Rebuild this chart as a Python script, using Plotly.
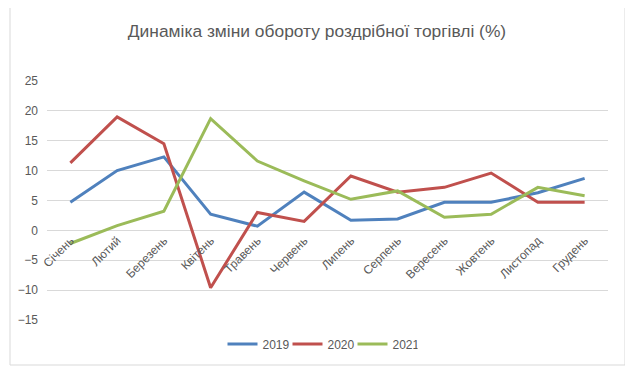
import plotly.graph_objects as go

months = ["Січень", "Лютий", "Березень", "Квітень", "Травень", "Червень",
          "Липень", "Серпень", "Вересень", "Жовтень", "Листопад", "Грудень"]
y2019 = [4.7, 10.0, 12.3, 2.7, 0.7, 6.4, 1.7, 1.9, 4.7, 4.7, 6.3, 8.7]
y2020 = [11.3, 19.0, 14.5, -9.6, 3.0, 1.5, 9.1, 6.4, 7.2, 9.6, 4.7, 4.7]
y2021 = [-2.2, 0.8, 3.2, 18.7, 11.6, 8.3, 5.2, 6.6, 2.2, 2.7, 7.2, 5.8]
yticks = [-15, -10, -5, 0, 5, 10, 15, 20, 25]

series = [("2019", y2019, "#4F81BD"), ("2020", y2020, "#C0504D"), ("2021", y2021, "#9BBB59")]

fig = go.Figure()
for name, vals, col in series:
    fig.add_trace(go.Scatter(x=months, y=vals, name=name, mode="lines",
                             line=dict(color=col, width=3)))

OFF = 8  # default page body margin
W, H = 633 - OFF, 371 - OFF
# plot area in window pixels: x 47..608, y 81..320
L, T = 47 - OFF, 81 - OFF
R, B = 633 - 608, 371 - 320
pw, ph = W - L - R, H - T - B
ymin, ymax = -15, 25

def py(win_y):
    return (T + ph - (win_y - OFF)) / ph

def px(win_x):
    return ((win_x - OFF) - L) / pw

fig.update_layout(
    width=W, height=H,
    margin=dict(l=L, r=R, t=T, b=B, autoexpand=False),
    paper_bgcolor="white", plot_bgcolor="white",
    font=dict(family="Liberation Sans", color="#595959", size=12),
    title=dict(text="Динаміка зміни обороту роздрібної торгівлі (%)",
               x=(317 - OFF) / W, xref="container", xanchor="center",
               y=1 - (31 - OFF) / H, yanchor="middle",
               font=dict(size=17.4, color="#595959")),
    showlegend=True,
    legend=dict(orientation="h", x=px(320), xanchor="center", y=py(344),
                yanchor="middle", font=dict(size=12, color="#595959"),
                entrywidth=20, entrywidthmode="pixels"),
    xaxis=dict(type="category", range=[-0.5, 11.5], showgrid=False, showline=False,
               zeroline=False, tickangle=-45, anchor="free", automargin=False,
               position=(0 - ymin) / (ymax - ymin), ticks="", fixedrange=True),
    yaxis=dict(range=[ymin, ymax], tickvals=yticks, showgrid=True, gridcolor="#D9D9D9",
               gridwidth=1, zeroline=False, showline=False, ticks="", ticklabelstandoff=8,
               automargin=False),
)

# outer chart border
fig.add_shape(type="rect", xref="paper", yref="paper",
              x0=px(10), x1=px(625), y0=py(365), y1=py(5),
              line=dict(color="#D9D9D9", width=1), layer="below")

fig.write_html("out.html")
